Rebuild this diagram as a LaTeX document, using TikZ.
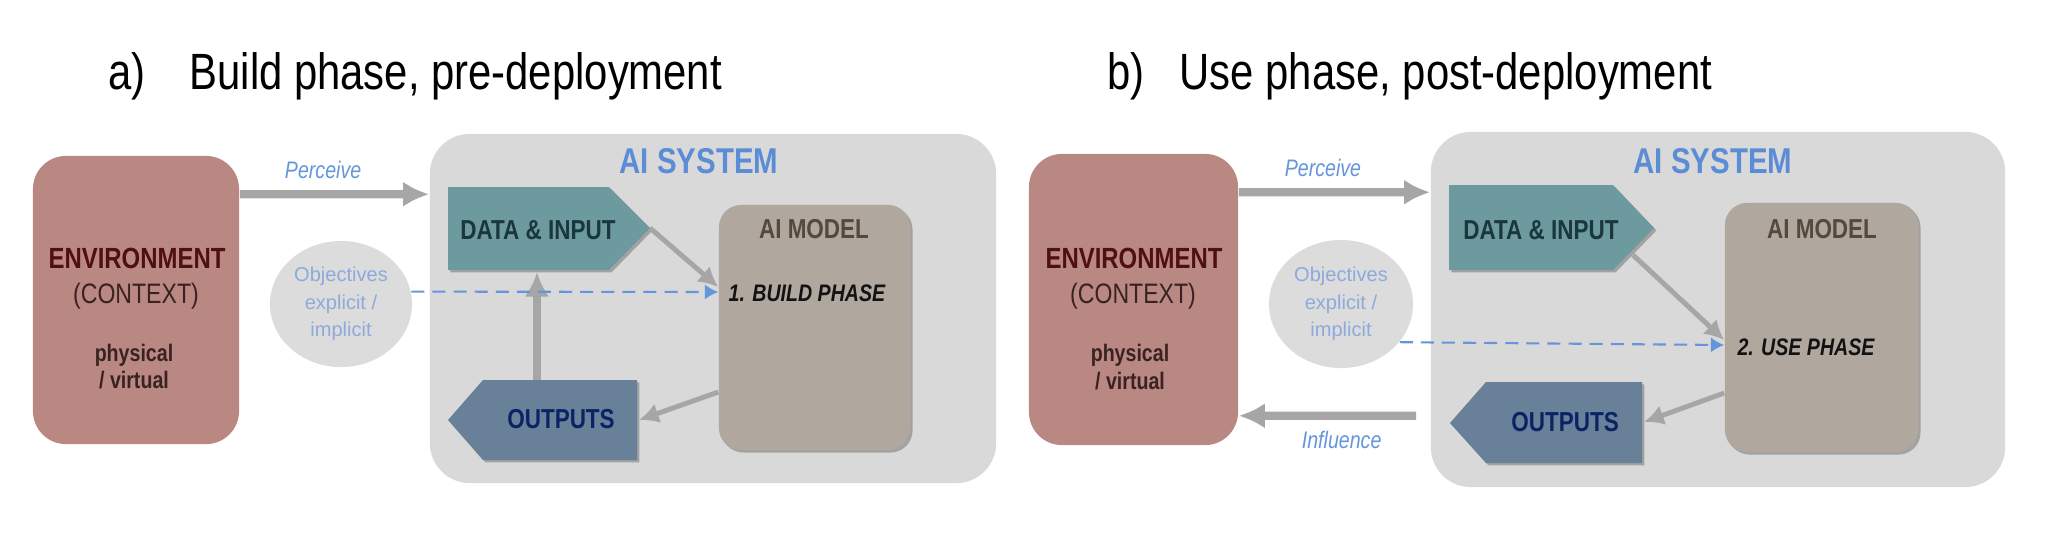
\documentclass[tikz,border=0pt]{standalone}
\usepackage{fontspec}
\setmainfont{Liberation Sans}[FakeStretch=0.82]
\newfontfamily\objfont{Liberation Sans}
\usetikzlibrary{arrows.meta,shapes.geometric,shadows}

\definecolor{envfill}{HTML}{B98883}
\definecolor{envtext}{HTML}{501010}
\definecolor{envsubtext}{HTML}{3A2222}
\definecolor{sysfill}{HTML}{D9D9D9}
\definecolor{sysblue}{HTML}{5B8DD6}
\definecolor{datafill}{HTML}{6C9A9E}
\definecolor{datatext}{HTML}{19373C}
\definecolor{modelfill}{HTML}{B0A79E}
\definecolor{modeltext}{HTML}{55483C}
\definecolor{outfill}{HTML}{688199}
\definecolor{outtext}{HTML}{0A2364}
\definecolor{arrowgray}{HTML}{A6A6A6}
\definecolor{dashblue}{HTML}{6496DC}
\definecolor{objfill}{HTML}{DCDCDC}
\definecolor{objtext}{HTML}{8CAADC}

\begin{document}
\begin{tikzpicture}[x=0.01cm,y=-0.01cm,
  softshadow/.style={drop shadow={shadow xshift=0.7pt,shadow yshift=-0.7pt,opacity=0.25,fill=black}},
  envbox/.style={fill=envfill,rounded corners=0.33cm,inner sep=0},
  sysbox/.style={fill=sysfill,rounded corners=0.4cm,inner sep=0},
  modelbox/.style={fill=modelfill,rounded corners=0.22cm,inner sep=0,softshadow},
  objbubble/.style={ellipse,fill=objfill,inner sep=0,align=center,text=objtext,
    font=\objfont\fontsize{5.7}{7.8}\selectfont},
  bigarrow/.style={draw=arrowgray,line width=2.3pt,-{Latex[length=7.4pt,width=7.2pt]}},
  midarrow/.style={draw=arrowgray,line width=1.4pt,-{Latex[length=5.6pt,width=5.8pt]}},
  uparrow/.style={draw=arrowgray,line width=2pt,-{Latex[length=7pt,width=7pt]}},
  objarrow/.style={draw=dashblue,line width=0.6pt,dash pattern=on 3.7pt off 2.3pt,
    -{Latex[length=3.8pt,width=4.3pt]}},
  paneltitle/.style={anchor=base west,inner sep=0,font=\fontsize{14.5}{17}\selectfont},
  systitle/.style={anchor=base,text=sysblue,font=\fontsize{10.2}{12}\selectfont\bfseries},
  boxtitle/.style={anchor=base,font=\fontsize{7.8}{9}\selectfont\bfseries},
  phaselabel/.style={anchor=base,text=black!93,font=\fontsize{6.8}{8}\selectfont\bfseries\itshape},
  envmain/.style={anchor=base,text=envtext,font=\fontsize{8.3}{10}\selectfont\bfseries},
  envsub/.style={anchor=base,text=envsubtext,font=\fontsize{8}{10}\selectfont},
  envnote/.style={anchor=base,text=envsubtext,font=\fontsize{6.8}{8}\selectfont\bfseries},
  arrowlabel/.style={text=dashblue,font=\fontsize{6.8}{8}\selectfont\itshape}]

  \path[use as bounding box,fill=white] (0,0) rectangle (2048,532);

  \node[paneltitle] (letA) at (108,89) {a)};
  \node[paneltitle] (titleA) at (189,89) {Build phase, pre-deployment};
  \node[paneltitle] (letB) at (1107,89) {b)};
  \node[paneltitle] (titleB) at (1179,89) {Use phase, post-deployment};

  \node[envbox,minimum width=2.06cm,minimum height=2.88cm] (envA) at (136,300) {};
  \node[envmain] (envAmain) at (137,268) {ENVIRONMENT};
  \node[envsub] (envAsub) at (136,303) {(CONTEXT)};
  \node[envnote] (envAnote1) at (134,361) {physical};
  \node[envnote] (envAnote2) at (134,388) {/ virtual};

  \node[objbubble,minimum width=1.42cm,minimum height=1.26cm] (objA) at (341,304) {Objectives\\explicit /\\implicit};

  \node[sysbox,minimum width=5.66cm,minimum height=3.49cm] (sysA) at (713,308.5) {};
  \node[systitle] (sysAtitle) at (699,173) {AI SYSTEM};

  \fill[datafill,softshadow] (448,187) -- (609,187) -- (650,228) -- (609,270) -- (448,270) -- cycle;
  \node[boxtitle,text=datatext] (dataA) at (538,239) {DATA \& INPUT};
  \fill[outfill,softshadow] (448,420) -- (483,380) -- (637,380) -- (637,460) -- (483,460) -- cycle;
  \node[boxtitle,text=outtext] (outA) at (561,428) {OUTPUTS};

  \node[modelbox,minimum width=1.91cm,minimum height=2.45cm] (modelA) at (814.5,327.5) {};
  \node[boxtitle,text=modeltext] (modelAtitle) at (814,238) {AI MODEL};
  \node[phaselabel] (phaseA) at (807,301) {1. BUILD PHASE};

  \coordinate (dataAtip) at (650,228);
  \coordinate (dataAbot) at (537,272);
  \coordinate (outAtop) at (537,380);
  \coordinate (outAeast) at (639,420);

  \draw[bigarrow] ([yshift=-0.39cm]envA.north east) -- ([yshift=-0.61cm]sysA.north west)
    node[arrowlabel,pos=0.44,above] (percA) {Perceive};
  \draw[midarrow] (dataAtip) -- ([yshift=0.405cm]modelA.west);
  \draw[midarrow] ([yshift=-0.645cm]modelA.west) -- (outAeast);
  \draw[uparrow] (outAtop) -- (dataAbot);
  \draw[objarrow] (objA.10) -- ([yshift=0.355cm]modelA.west);

  \node[envbox,minimum width=2.09cm,minimum height=2.91cm] (envB) at (1133.5,299.5) {};
  \node[envmain] (envBmain) at (1134,268) {ENVIRONMENT};
  \node[envsub] (envBsub) at (1133,303) {(CONTEXT)};
  \node[envnote] (envBnote1) at (1130,361) {physical};
  \node[envnote] (envBnote2) at (1130,389) {/ virtual};

  \node[objbubble,minimum width=1.44cm,minimum height=1.28cm] (objB) at (1341,304) {Objectives\\explicit /\\implicit};

  \node[sysbox,minimum width=5.74cm,minimum height=3.55cm] (sysB) at (1718,309.5) {};
  \node[systitle] (sysBtitle) at (1713,173) {AI SYSTEM};

  \fill[datafill,softshadow] (1449,185) -- (1613,185) -- (1654,228) -- (1613,270) -- (1449,270) -- cycle;
  \node[boxtitle,text=datatext] (dataB) at (1541,239) {DATA \& INPUT};
  \fill[outfill,softshadow] (1450,423) -- (1486,382) -- (1642,382) -- (1642,463) -- (1486,463) -- cycle;
  \node[boxtitle,text=outtext] (outB) at (1565,431) {OUTPUTS};

  \node[modelbox,minimum width=1.93cm,minimum height=2.49cm] (modelB) at (1821.5,327.5) {};
  \node[boxtitle,text=modeltext] (modelBtitle) at (1822,238) {AI MODEL};
  \node[phaselabel] (phaseB) at (1806,355) {2. USE PHASE};

  \coordinate (dataBedge) at (1633,255);
  \coordinate (outBeast) at (1644,422);

  \draw[bigarrow] ([yshift=-0.39cm]envB.north east) -- ([yshift=-0.61cm]sysB.north west)
    node[arrowlabel,pos=0.44,above] (percB) {Perceive};
  \draw[bigarrow] ([xshift=-0.14cm,yshift=0.72cm]sysB.south west) -- ([yshift=0.3cm]envB.south east)
    node[arrowlabel,pos=0.42,below] (inflB) {Influence};
  \draw[midarrow] (dataBedge) -- ([yshift=-0.125cm]modelB.west);
  \draw[midarrow] ([yshift=-0.655cm]modelB.west) -- (outBeast);
  \draw[objarrow] (objB.-33) -- ([yshift=-0.175cm]modelB.west);
\end{tikzpicture}
\end{document}
